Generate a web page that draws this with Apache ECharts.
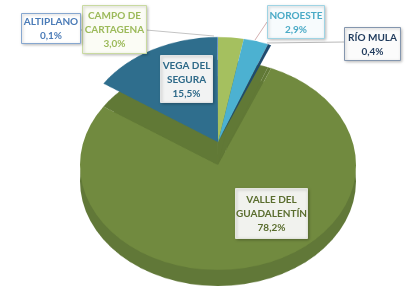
<!DOCTYPE html>
<html>
<head>
<meta charset="utf-8">
<script src="https://cdn.jsdelivr.net/npm/echarts@6/dist/echarts.min.js"></script>
<style>
  html, body { margin: 0; padding: 0; background: #ffffff; }
  #wrap { position: relative; width: 414px; height: 307px; overflow: hidden; }
  #pie { position: absolute; left: 0; top: 0; width: 414px; height: 404px; transform: scaleY(0.76087); transform-origin: 0 0; }
  #labels { position: absolute; left: 0; top: 0; width: 414px; height: 307px; }
</style>
</head>
<body>
<div id="wrap">
  <div id="pie"></div>
  <div id="labels"></div>
</div>
<script>
// ---- data (clockwise from 12 o'clock) ----
const categories = ['CAMPO DE CARTAGENA', 'NOROESTE', 'RÍO MULA', 'VALLE DEL GUADALENTÍN', 'VEGA DEL SEGURA', 'ALTIPLANO'];
const labelNames = ['CAMPO DE\nCARTAGENA', 'NOROESTE', 'RÍO MULA', 'VALLE DEL\nGUADALENTÍN', 'VEGA DEL\nSEGURA', 'ALTIPLANO'];
const values = [3.0, 2.9, 0.4, 78.2, 15.5, 0.1];
const mainIndex = 3; // the large slice stays in place, the others are raised

// ---- styles ----
const sliceColors = ['#a5c05f', '#4cb1d1', '#1f4a6e', '#718a3f', '#2f6e8d', '#4f81bd'];
const sideColor = '#617838';
const wallColor = '#617936';
const S = 105 / 138;          // vertical squash of the tilted pie
const R = 138;
const CX = 218;
const py = y => y / S;        // screen y -> pre-scale y

function seriesData(colorFn) {
  return categories.map((c, i) => ({
    name: c, value: values[i],
    itemStyle: { color: colorFn(i) }
  }));
}
const baseSeries = {
  type: 'pie', radius: R, startAngle: 90, clockwise: true, minAngle: 0,
  label: { show: false }, labelLine: { show: false }, silent: true,
  avoidLabelOverlap: false, animation: false,
  itemStyle: { borderWidth: 0 }, emphasis: { disabled: true }
};

const pie = echarts.init(document.getElementById('pie'), null, { renderer: 'canvas' });
pie.setOption({
  animation: false,
  series: [
    Object.assign({}, baseSeries, { z: 1, center: [CX, py(181)], data: seriesData(() => sideColor) }),
    Object.assign({}, baseSeries, { z: 2, center: [CX, py(165)],
      data: seriesData(i => i === mainIndex ? sliceColors[i] : wallColor) }),
    Object.assign({}, baseSeries, { z: 3, center: [CX, py(142)],
      data: seriesData(i => i === mainIndex ? 'rgba(0,0,0,0)' : sliceColors[i]) })
  ]
});

// ---- label boxes ----
const fmt = v => v.toFixed(1).replace('.', ',') + '%';
const boxes = [
  { x: 82,  y: 5,   w: 64, h: 48, text: '#9cba5a', fill: '#fbfcf5', stroke: '#c9daa0' },
  { x: 267, y: 5,   w: 57, h: 33, text: '#4aaac6', fill: '#f7fbfd', stroke: '#9fd4e4' },
  { x: 344, y: 27,  w: 56, h: 33, text: '#1f3a5c', fill: '#fbfbfb', stroke: '#8496ae' },
  { x: 235, y: 188, w: 72, h: 50, text: '#5a6d2e', fill: '#f1f2ee', stroke: '#e3e5dd' },
  { x: 160, y: 55,  w: 52, h: 47, text: '#2d6988', fill: '#f2f3f3', stroke: '#e0e3e4' },
  { x: 21,  y: 13,  w: 59, h: 30, text: '#4a7bb7', fill: '#ffffff', stroke: '#86a7d0' }
];
const leaders = [
  { pts: [[146, 30], [214, 36]], color: '#c4c4c4' },
  { pts: [[267, 22], [255, 40]], color: '#d4b0b0' },
  { pts: [[344, 42], [267, 43]], color: '#b8b8b8' },
  null, null,
  { pts: [[80, 30], [82, 30]], color: '#c4c4c4' }
];

const graphics = [];
leaders.forEach(l => {
  if (!l) return;
  graphics.push({ type: 'polyline', shape: { points: l.pts }, style: { stroke: l.color, lineWidth: 1, fill: null }, z: 1 });
});
boxes.forEach((b, i) => {
  graphics.push({
    type: 'rect', shape: { x: b.x + 0.5, y: b.y + 0.5, width: b.w, height: b.h },
    style: { fill: b.fill, stroke: b.stroke, lineWidth: 1, shadowBlur: 3, shadowColor: 'rgba(0,0,0,0.25)', shadowOffsetX: 1, shadowOffsetY: 1 },
    z: 2
  });
  graphics.push({
    type: 'text', x: b.x + b.w / 2 + 0.5, y: b.y + b.h / 2 + 1, z: 3,
    style: {
      text: labelNames[i] + '\n' + fmt(values[i]),
      fill: b.text, font: 'bold 10px Lato', lineHeight: 14,
      align: 'center', verticalAlign: 'middle'
    }
  });
});

const lab = echarts.init(document.getElementById('labels'), null, { renderer: 'canvas' });
lab.setOption({ animation: false, graphic: graphics });
</script>
</body>
</html>
